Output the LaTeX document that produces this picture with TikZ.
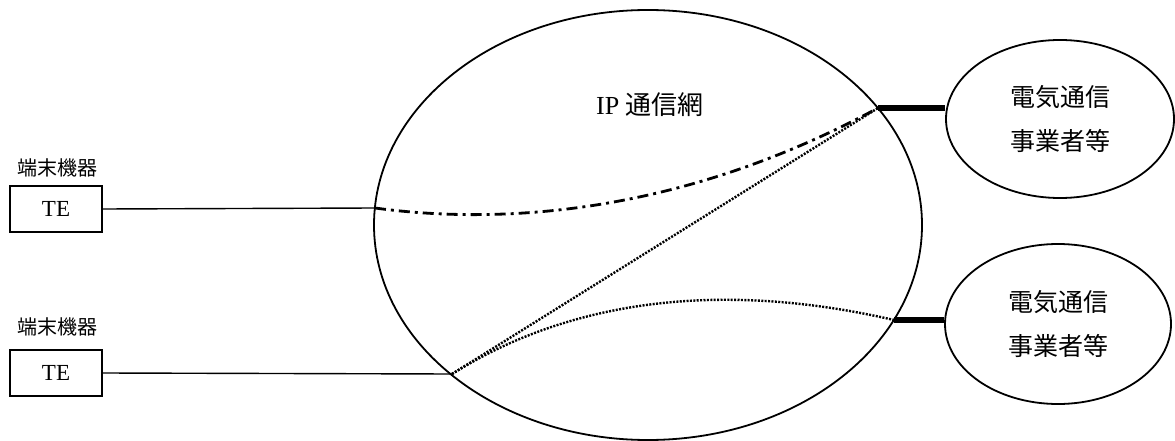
\documentclass[tikz,border=0pt]{standalone}
\usepackage{fontspec}
\setmainfont{Liberation Serif}
\newfontfamily\jp{Noto Sans CJK JP}
\usetikzlibrary{shapes.geometric}
\tikzset{
  tebox/.style={draw, line width=1.5pt, minimum width=92pt, minimum height=46pt, inner sep=0pt, font=\fontsize{23}{25}\selectfont},
  tlabel/.style={font=\jp\fontsize{20}{22}\selectfont, inner sep=0pt},
  net/.style={draw, ellipse, line width=1.8pt, inner sep=0pt},
  link/.style={line width=1.4pt},
  trunk/.style={line width=5.5pt},
  dotline/.style={line width=2.4pt, dash pattern=on 2pt off 1.4pt},
  dashdotline/.style={line width=2.8pt, dash pattern=on 11pt off 5pt on 3pt off 5pt}
}
\begin{document}
\begin{tikzpicture}[x=1pt,y=-1pt]
\useasboundingbox (0,0) rectangle (1175,441);
% IP network
\node[net, minimum width=548pt, minimum height=430pt] (ip) at (648,225) {};
\node[font=\fontsize{26}{28}\selectfont, inner sep=0pt] (iplabel) at (650,105) {IP {\jp 通信網}};
% carriers
\node[net, minimum width=228pt, minimum height=158pt, align=center, font=\jp\fontsize{25}{44}\selectfont] (c1) at (1060,119) {電気通信\\事業者等};
\node[net, minimum width=226pt, minimum height=160pt, align=center, font=\jp\fontsize{25}{44}\selectfont] (c2) at (1058,324) {電気通信\\事業者等};
% terminals
\node[tebox] (te1) at (56,209) {TE};
\node[tebox] (te2) at (56,373) {TE};
\node[tlabel] (l1) at (57,168) {端末機器};
\node[tlabel] (l2) at (57,327) {端末機器};
% attachment points
\coordinate (pa) at (375,208);
\coordinate (pb) at (452,374);
\coordinate (pc) at (878,108);
\coordinate (pd) at (894,320);
% access lines
\draw[link] (te1.east) -- (pa);
\draw[link] (te2.east) -- (pb);
% trunks
\draw[trunk] (pc) -- (c1.west |- pc);
\draw[trunk] (pd) -- (c2.west |- pd);
% paths inside network
\draw[dashdotline] (pa) .. controls (500,225) and (680,215) .. (pc);
\draw[dotline] (pb) -- (pc);
\draw[dotline] (pb) .. controls (570,300) and (720,280) .. (pd);
\end{tikzpicture}
\end{document}
